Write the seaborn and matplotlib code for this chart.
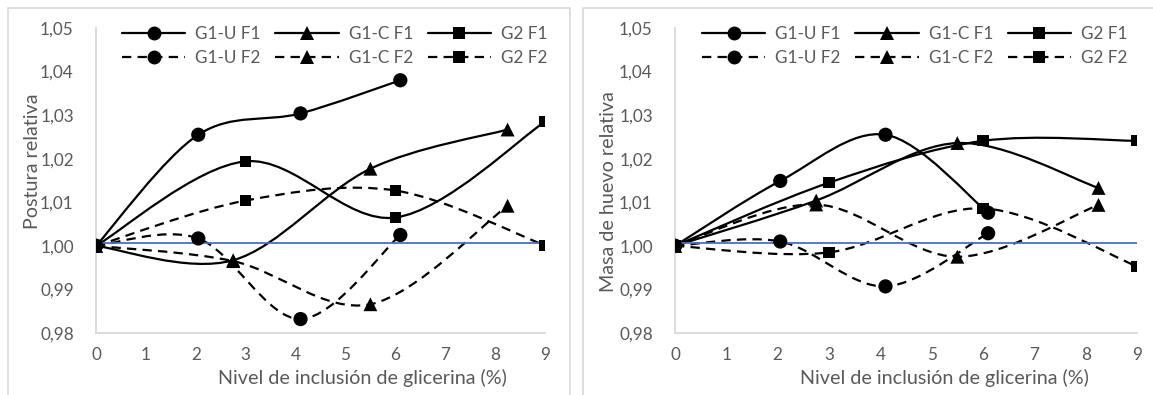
import numpy as np
import pandas as pd
import seaborn as sns
import matplotlib
matplotlib.use("Agg")
import matplotlib.pyplot as plt
from matplotlib.path import Path
from matplotlib.patches import PathPatch, Rectangle
from matplotlib.lines import Line2D

# ---- data -------------------------------------------------------------
series_names = ["G1-U F1", "G1-C F1", "G2 F1", "G1-U F2", "G1-C F2", "G2 F2"]

x_g1u = [0, 2.05, 4.1, 6.1]
x_g1c = [0, 2.75, 5.5, 8.25]
x_g2 = [0, 3, 6, 9]

# Postura relativa
post_g1u_f1 = [1.000, 1.0255, 1.0304, 1.0380]
post_g1c_f1 = [1.000, 0.9967, 1.0177, 1.0267]
post_g2_f1 = [1.000, 1.0194, 1.0065, 1.0285]
post_g1u_f2 = [1.000, 1.0017, 0.9832, 1.0025]
post_g1c_f2 = [1.000, 0.9965, 0.9866, 1.0092]
post_g2_f2 = [1.000, 1.0104, 1.0127, 1.0001]

# Masa de huevo relativa
masa_g1u_f1 = [1.000, 1.0149, 1.0255, 1.0076]
masa_g1c_f1 = [1.000, 1.0104, 1.0236, 1.0133]
masa_g2_f1 = [1.000, 1.0145, 1.0241, 1.0241]
masa_g1u_f2 = [1.000, 1.0010, 0.9907, 1.0029]
masa_g1c_f2 = [1.000, 1.0095, 0.9975, 1.0094]
masa_g2_f2 = [1.000, 0.9985, 1.0086, 0.9953]

ref_level = 1.0006

x_ticks = list(range(0, 10))
y_ticks = [0.98, 0.99, 1.00, 1.01, 1.02, 1.03, 1.04, 1.05]
y_tick_labels = ["0,98", "0,99", "1,00", "1,01", "1,02", "1,03", "1,04", "1,05"]
x_label = "Nivel de inclusión de glicerina (%)"
y_label_left = "Postura relativa"
y_label_right = "Masa de huevo relativa"

# ---- styling ----------------------------------------------------------
sns.set_theme(style="white")
plt.rcParams["font.family"] = ["Lato", "DejaVu Sans"]
TXT = "#595959"
GRID = "#D9D9D9"
BLUE = "#4472C4"
LW = 1.6
DASH = (0, (4.2, 2.8))
TICK_FS = 12.3
LEG_FS = 12.3
LAB_FS = 14.2
markers = {"G1-U": "o", "G1-C": "^", "G2": "s"}
msizes = {"o": 105, "^": 100, "s": 66}
leg_ms = {"o": 10, "^": 9.8, "s": 8}

W, H = 1153, 395
fig = plt.figure(figsize=(W / 100, H / 100), dpi=100)


def smooth_path(xs, ys):
    """Cubic Bezier path through the points (Catmull-Rom tangents)."""
    pts = np.column_stack([xs, ys]).astype(float)
    n = len(pts)
    verts = [pts[0]]
    codes = [Path.MOVETO]
    for i in range(n - 1):
        p0 = pts[i - 1] if i > 0 else pts[i]
        p1 = pts[i]
        p2 = pts[i + 1]
        p3 = pts[i + 2] if i + 2 < n else pts[i + 1]
        c1 = p1 + (p2 - p0) / 6.0
        c2 = p2 - (p3 - p1) / 6.0
        verts += [c1, c2, p2]
        codes += [Path.CURVE4] * 3
    return Path(verts, codes)


def draw_panel(rect_px, series, ylabel, ylabel_pos, xlabel_pos, legend_px):
    l, r, t, b = rect_px
    ax = fig.add_axes([l / W, 1 - b / H, (r - l) / W, (b - t) / H])
    ax.set_facecolor("none")

    for name, xs, ys in series:
        grp = name.split()[0]
        mk = markers[grp]
        ls = "-" if name.endswith("F1") else DASH
        patch = PathPatch(smooth_path(xs, ys), fill=False, edgecolor="black",
                          lw=LW, linestyle=ls, zorder=2, capstyle="butt")
        ax.add_patch(patch)
        df = pd.DataFrame({"x": xs, "y": ys})
        sns.scatterplot(data=df, x="x", y="y", marker=mk, s=msizes[mk],
                        color="black", edgecolor="none", ax=ax, zorder=4,
                        legend=False)

    sns.lineplot(x=[0, 9], y=[ref_level, ref_level], color=BLUE, lw=1.3,
                 ax=ax, zorder=3)

    ax.set_xlim(0, 9)
    ax.set_ylim(0.98, 1.05)
    ax.set_xticks(x_ticks)
    ax.set_xticklabels([str(v) for v in x_ticks])
    ax.set_yticks(y_ticks)
    ax.set_yticklabels(y_tick_labels)
    ax.tick_params(axis="both", length=0, labelsize=TICK_FS, colors=TXT)
    ax.tick_params(axis="y", pad=16)
    ax.tick_params(axis="x", pad=10)
    ax.set_xlabel("")
    ax.set_ylabel("")
    for s in ["top", "right"]:
        ax.spines[s].set_visible(False)
    for s in ["left", "bottom"]:
        ax.spines[s].set_color(GRID)
        ax.spines[s].set_linewidth(1.3)

    fig.text(xlabel_pos[0] / W, 1 - xlabel_pos[1] / H, x_label, ha="center",
             va="center", fontsize=LAB_FS, color=TXT)
    fig.text(ylabel_pos[0] / W, 1 - ylabel_pos[1] / H, ylabel, ha="center",
             va="center", rotation=90, fontsize=LAB_FS, color=TXT)

    handles = []
    order = ["G1-U F1", "G1-U F2", "G1-C F1", "G1-C F2", "G2 F1", "G2 F2"]
    for name in order:
        mk = markers[name.split()[0]]
        ls = "-" if name.endswith("F1") else DASH
        handles.append(Line2D([], [], color="black", lw=LW, linestyle=ls,
                              marker=mk, markersize=leg_ms[mk],
                              markeredgewidth=0, label=name))
    ax.legend(handles=handles, ncol=3, loc="upper left",
              bbox_to_anchor=(legend_px[0] / W, 1 - legend_px[1] / H),
              bbox_transform=fig.transFigure, frameon=False, borderpad=0,
              borderaxespad=0, handlelength=3.7, handletextpad=0.6,
              columnspacing=0.85, labelspacing=0.45, prop={"size": LEG_FS},
              labelcolor=TXT)
    return ax


left_series = [
    ("G1-U F1", x_g1u, post_g1u_f1),
    ("G1-C F1", x_g1c, post_g1c_f1),
    ("G2 F1", x_g2, post_g2_f1),
    ("G1-U F2", x_g1u, post_g1u_f2),
    ("G1-C F2", x_g1c, post_g1c_f2),
    ("G2 F2", x_g2, post_g2_f2),
]
right_series = [
    ("G1-U F1", x_g1u, masa_g1u_f1),
    ("G1-C F1", x_g1c, masa_g1c_f1),
    ("G2 F1", x_g2, masa_g2_f1),
    ("G1-U F2", x_g1u, masa_g1u_f2),
    ("G1-C F2", x_g1c, masa_g1c_f2),
    ("G2 F2", x_g2, masa_g2_f2),
]

# chart-area borders
fig.add_artist(Rectangle((8 / W, -0.1), (570 - 8) / W, 1.1 - 8 / H,
                         transform=fig.transFigure, fill=False,
                         edgecolor=GRID, lw=1.2))
fig.add_artist(Rectangle((583 / W, -0.1), 0.6, 1.1 - 8 / H,
                         transform=fig.transFigure, fill=False,
                         edgecolor=GRID, lw=1.2))

draw_panel((96, 545, 28, 333), left_series, y_label_left, (33, 161),
           (362, 378), (122, 26))
draw_panel((675, 1137, 28, 333), right_series, y_label_right, (609, 192),
           (944, 378), (702, 26))

fig.savefig("out.png", dpi=100)
